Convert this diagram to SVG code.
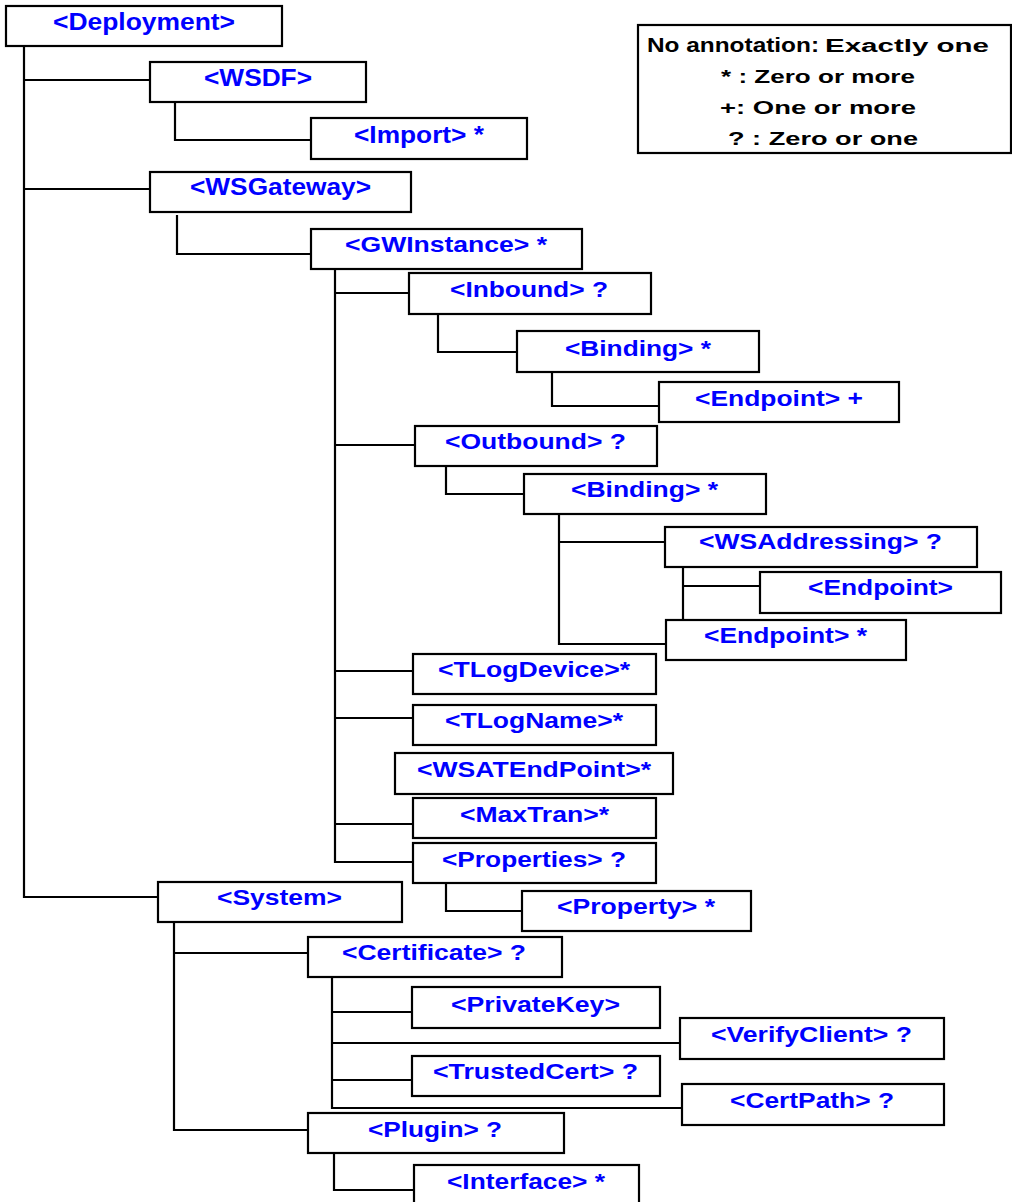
<svg xmlns="http://www.w3.org/2000/svg" width="1012" height="1202" viewBox="0 0 1012 1202">
<style>
.box{fill:#fff;stroke:#000;stroke-width:2.2}
.t{font-family:"Liberation Sans",Arial,sans-serif;font-weight:bold;font-size:22px;fill:#0000ff}
.big{font-size:24px}
.lg{font-family:"Liberation Sans",Arial,sans-serif;font-weight:bold;fill:#000;text-anchor:middle}
#connectors line{stroke:#000;stroke-width:2.2}
</style>
<rect width="1012" height="1202" fill="#fff"/>
<g id="connectors">
<line x1="24" y1="46" x2="24" y2="898"/>
<line x1="24" y1="80" x2="150" y2="80"/>
<line x1="175" y1="102" x2="175" y2="141"/>
<line x1="175" y1="140" x2="311" y2="140"/>
<line x1="24" y1="189" x2="150" y2="189"/>
<line x1="177" y1="215" x2="177" y2="255"/>
<line x1="177" y1="254" x2="311" y2="254"/>
<line x1="335" y1="269" x2="335" y2="863"/>
<line x1="335" y1="293" x2="409" y2="293"/>
<line x1="438" y1="314" x2="438" y2="353"/>
<line x1="438" y1="352" x2="517" y2="352"/>
<line x1="552" y1="372" x2="552" y2="407"/>
<line x1="552" y1="406" x2="659" y2="406"/>
<line x1="335" y1="445" x2="415" y2="445"/>
<line x1="446" y1="466" x2="446" y2="495"/>
<line x1="446" y1="494" x2="524" y2="494"/>
<line x1="559" y1="514" x2="559" y2="645"/>
<line x1="559" y1="542" x2="665" y2="542"/>
<line x1="559" y1="644" x2="666" y2="644"/>
<line x1="683" y1="567" x2="683" y2="620"/>
<line x1="683" y1="586" x2="760" y2="586"/>
<line x1="335" y1="671" x2="413" y2="671"/>
<line x1="335" y1="718" x2="413" y2="718"/>
<line x1="335" y1="824" x2="413" y2="824"/>
<line x1="335" y1="862" x2="413" y2="862"/>
<line x1="446" y1="883" x2="446" y2="912"/>
<line x1="446" y1="911" x2="522" y2="911"/>
<line x1="24" y1="897" x2="158" y2="897"/>
<line x1="174" y1="919" x2="174" y2="1131"/>
<line x1="174" y1="953" x2="308" y2="953"/>
<line x1="174" y1="1130" x2="308" y2="1130"/>
<line x1="332" y1="974" x2="332" y2="1109"/>
<line x1="332" y1="1012" x2="412" y2="1012"/>
<line x1="332" y1="1043" x2="680" y2="1043"/>
<line x1="332" y1="1080" x2="412" y2="1080"/>
<line x1="332" y1="1108" x2="682" y2="1108"/>
<line x1="334" y1="1152" x2="334" y2="1191"/>
<line x1="334" y1="1190" x2="414" y2="1190"/>
</g>
<g id="legend">
<rect class="box" x="638" y="25" width="373" height="128"/>
<text class="lg" x="818" y="52"><tspan font-size="21" textLength="172" lengthAdjust="spacingAndGlyphs">No annotation:</tspan><tspan font-size="18" dx="6" textLength="164" lengthAdjust="spacingAndGlyphs">Exactly one</tspan></text>
<text class="lg" x="818" y="83" font-size="19" textLength="194" lengthAdjust="spacingAndGlyphs">* : Zero or more</text>
<text class="lg" x="818" y="114" font-size="19" textLength="196" lengthAdjust="spacingAndGlyphs">+:  One or more</text>
<text class="lg" x="823" y="145" font-size="19" textLength="190" lengthAdjust="spacingAndGlyphs">? :  Zero or one</text>
</g>
<g id="n-deployment"><rect class="box" x="6" y="6" width="276" height="40"/><text class="t big" x="53" y="29.5" textLength="182" lengthAdjust="spacingAndGlyphs">&lt;Deployment&gt;</text></g>
<g id="n-wsdf"><rect class="box" x="150" y="62" width="216" height="40"/><text class="t big" x="204" y="86" textLength="108" lengthAdjust="spacingAndGlyphs">&lt;WSDF&gt;</text></g>
<g id="n-import"><rect class="box" x="311" y="118" width="216" height="41"/><text class="t big" x="354" y="143" textLength="130" lengthAdjust="spacingAndGlyphs">&lt;Import&gt; *</text></g>
<g id="n-wsgateway"><rect class="box" x="150" y="172" width="261" height="40"/><text class="t big" x="190" y="195" textLength="181" lengthAdjust="spacingAndGlyphs">&lt;WSGateway&gt;</text></g>
<g id="n-gwinstance"><rect class="box" x="311" y="229" width="271" height="40"/><text class="t" x="345" y="252" textLength="202" lengthAdjust="spacingAndGlyphs">&lt;GWInstance&gt; *</text></g>
<g id="n-inbound"><rect class="box" x="409" y="273" width="242" height="41"/><text class="t" x="450" y="297" textLength="158" lengthAdjust="spacingAndGlyphs">&lt;Inbound&gt; ?</text></g>
<g id="n-binding-in"><rect class="box" x="517" y="331" width="242" height="41"/><text class="t" x="565" y="356" textLength="146" lengthAdjust="spacingAndGlyphs">&lt;Binding&gt; *</text></g>
<g id="n-endpoint-in"><rect class="box" x="659" y="382" width="240" height="40"/><text class="t" x="695" y="406" textLength="168" lengthAdjust="spacingAndGlyphs">&lt;Endpoint&gt; +</text></g>
<g id="n-outbound"><rect class="box" x="415" y="426" width="242" height="40"/><text class="t" x="445" y="449" textLength="181" lengthAdjust="spacingAndGlyphs">&lt;Outbound&gt; ?</text></g>
<g id="n-binding-out"><rect class="box" x="524" y="474" width="242" height="40"/><text class="t" x="571" y="497" textLength="147" lengthAdjust="spacingAndGlyphs">&lt;Binding&gt; *</text></g>
<g id="n-wsaddressing"><rect class="box" x="665" y="527" width="312" height="40"/><text class="t" x="699" y="549" textLength="243" lengthAdjust="spacingAndGlyphs">&lt;WSAddressing&gt; ?</text></g>
<g id="n-endpoint-wsa"><rect class="box" x="760" y="572" width="241" height="41"/><text class="t" x="808" y="595" textLength="145" lengthAdjust="spacingAndGlyphs">&lt;Endpoint&gt;</text></g>
<g id="n-endpoint-out"><rect class="box" x="666" y="620" width="240" height="40"/><text class="t" x="704" y="643" textLength="163" lengthAdjust="spacingAndGlyphs">&lt;Endpoint&gt; *</text></g>
<g id="n-tlogdevice"><rect class="box" x="413" y="654" width="243" height="40"/><text class="t" x="438" y="677" textLength="192" lengthAdjust="spacingAndGlyphs">&lt;TLogDevice&gt;*</text></g>
<g id="n-tlogname"><rect class="box" x="413" y="705" width="243" height="40"/><text class="t" x="445" y="728" textLength="178" lengthAdjust="spacingAndGlyphs">&lt;TLogName&gt;*</text></g>
<g id="n-wsatendpoint"><rect class="box" x="395" y="753" width="278" height="41"/><text class="t" x="417" y="777" textLength="234" lengthAdjust="spacingAndGlyphs">&lt;WSATEndPoint&gt;*</text></g>
<g id="n-maxtran"><rect class="box" x="413" y="798" width="243" height="40"/><text class="t" x="460" y="822" textLength="149" lengthAdjust="spacingAndGlyphs">&lt;MaxTran&gt;*</text></g>
<g id="n-properties"><rect class="box" x="413" y="843" width="243" height="40"/><text class="t" x="442" y="867" textLength="184" lengthAdjust="spacingAndGlyphs">&lt;Properties&gt; ?</text></g>
<g id="n-property"><rect class="box" x="522" y="891" width="229" height="40"/><text class="t" x="557" y="914" textLength="158" lengthAdjust="spacingAndGlyphs">&lt;Property&gt; *</text></g>
<g id="n-system"><rect class="box" x="158" y="882" width="244" height="40"/><text class="t" x="217" y="905" textLength="125" lengthAdjust="spacingAndGlyphs">&lt;System&gt;</text></g>
<g id="n-certificate"><rect class="box" x="308" y="937" width="254" height="40"/><text class="t" x="342" y="960" textLength="184" lengthAdjust="spacingAndGlyphs">&lt;Certificate&gt; ?</text></g>
<g id="n-privatekey"><rect class="box" x="412" y="987" width="248" height="41"/><text class="t" x="451" y="1012" textLength="169" lengthAdjust="spacingAndGlyphs">&lt;PrivateKey&gt;</text></g>
<g id="n-verifyclient"><rect class="box" x="680" y="1018" width="264" height="41"/><text class="t" x="711" y="1042" textLength="201" lengthAdjust="spacingAndGlyphs">&lt;VerifyClient&gt; ?</text></g>
<g id="n-trustedcert"><rect class="box" x="412" y="1056" width="248" height="40"/><text class="t" x="433" y="1079" textLength="205" lengthAdjust="spacingAndGlyphs">&lt;TrustedCert&gt; ?</text></g>
<g id="n-certpath"><rect class="box" x="682" y="1084" width="262" height="41"/><text class="t" x="730" y="1108" textLength="164" lengthAdjust="spacingAndGlyphs">&lt;CertPath&gt; ?</text></g>
<g id="n-plugin"><rect class="box" x="308" y="1113" width="256" height="40"/><text class="t" x="368" y="1137" textLength="134" lengthAdjust="spacingAndGlyphs">&lt;Plugin&gt; ?</text></g>
<g id="n-interface"><rect class="box" x="414" y="1165" width="225" height="45"/><text class="t" x="447" y="1189" textLength="158" lengthAdjust="spacingAndGlyphs">&lt;Interface&gt; *</text></g>
</svg>
